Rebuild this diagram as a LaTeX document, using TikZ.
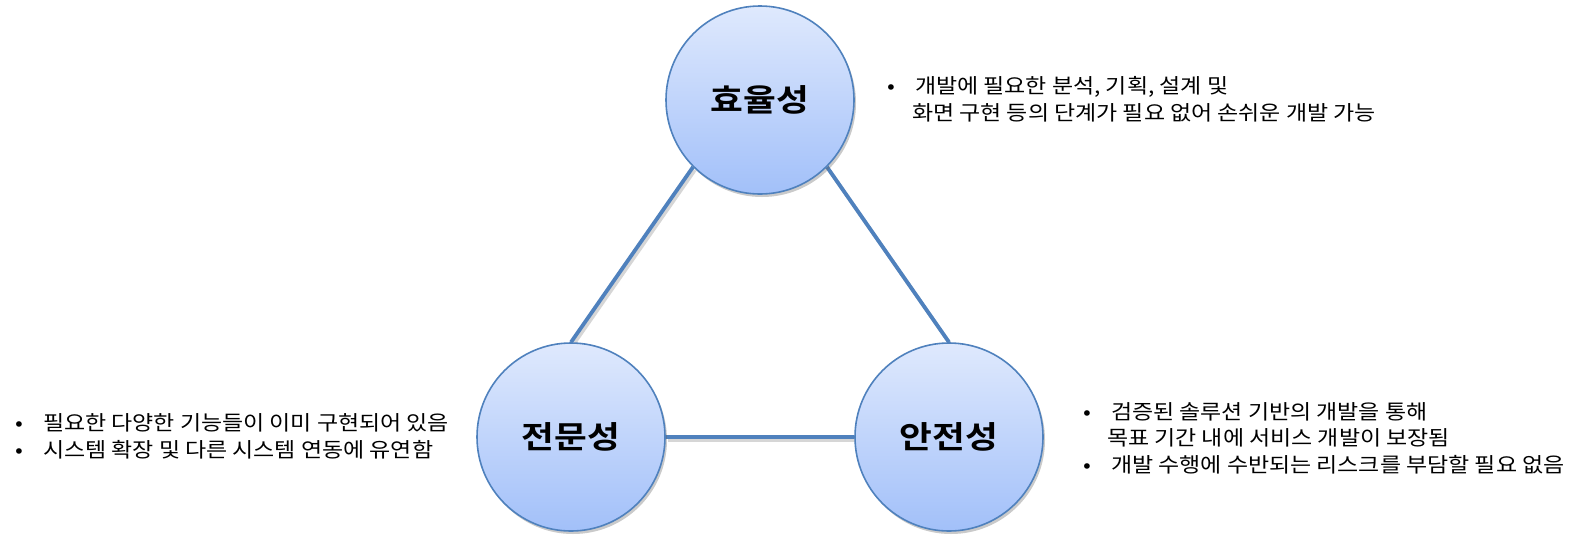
\documentclass[tikz,border=0pt]{standalone}
\usepackage{fontspec}
\setmainfont{Noto Sans CJK KR}
\newfontfamily\bodyfont[FakeStretch=1.12]{Noto Sans CJK KR}
\newfontfamily\titlefont[FakeStretch=1.15]{Noto Sans CJK KR Bold}
\usetikzlibrary{shadows,backgrounds}
\definecolor{edgeblue}{HTML}{4F81BD}
\definecolor{topfill}{HTML}{DFE9FD}
\definecolor{botfill}{HTML}{A2C0F9}
\tikzset{
  ball/.style={circle, minimum size=188pt, inner sep=0pt, draw=edgeblue, line width=1.6pt,
    top color=topfill, bottom color=botfill,
    drop shadow={shadow xshift=2pt, shadow yshift=-3pt, opacity=0.35, fill=black!60},
    font=\titlefont\fontsize{31}{34}\selectfont},
  link/.style={draw=edgeblue, line width=3.8pt},
  linkshadow/.style={draw=black!40, line width=3.5pt, opacity=0.4, transform canvas={xshift=2pt, yshift=-3pt}},
  desc/.style={anchor=base west, inner sep=0pt, font=\bodyfont\fontsize{20.5}{27}\selectfont},
}
\newcommand{\bul}{\makebox[28pt][l]{•}}
\begin{document}
\begin{tikzpicture}[x=1pt,y=-1pt]
\useasboundingbox (0,0) rectangle (1579,542);
% balls
\node[ball] (top) at (760,100) {효율성};
\node[ball] (left) at (571,437) {전문성};
\node[ball] (right) at (949,437) {안전성};
% links
\begin{scope}[on background layer]
\draw[linkshadow] (top.south west) -- (left.north);
\draw[linkshadow] (top.south east) -- (right.north);
\draw[linkshadow] (left.east) -- (right.west);
\draw[link] (top.south west) -- (left.north);
\draw[link] (top.south east) -- (right.north);
\draw[link] (left.east) -- (right.west);
\end{scope}
% descriptions
\node[desc] (t1) at (887,93) {\bul 개발에 필요한 분석, 기획, 설계 및};
\node[desc] (t2) at (912,120) {화면 구현 등의 단계가 필요 없어 손쉬운 개발 가능};
\node[desc] (l1) at (15,430) {\bul 필요한 다양한 기능들이 이미 구현되어 있음};
\node[desc] (l2) at (15,457) {\bul 시스템 확장 및 다른 시스템 연동에 유연함};
\node[desc] (r1) at (1083,419) {\bul 검증된 솔루션 기반의 개발을 통해};
\node[desc] (r2) at (1107,445) {목표 기간 내에 서비스 개발이 보장됨};
\node[desc] (r3) at (1083,472) {\bul 개발 수행에 수반되는 리스크를 부담할 필요 없음};
\end{tikzpicture}
\end{document}
